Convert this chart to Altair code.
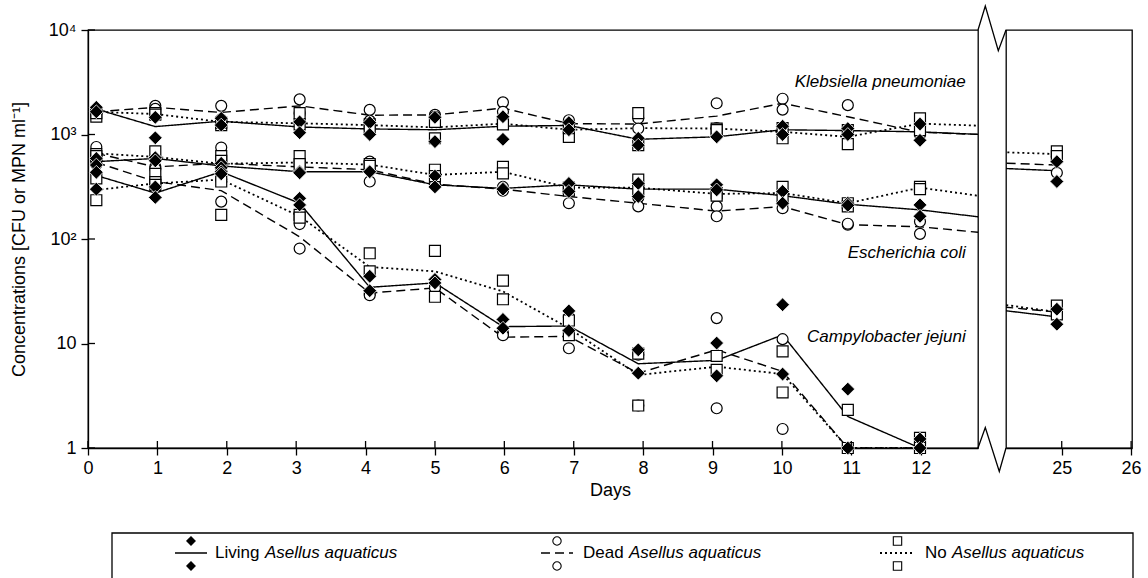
import altair as alt
import pandas as pd

# ---------------- data ----------------
days = [0.12, 0.97, 1.92, 3.05, 4.06, 5.0, 5.98, 6.93, 7.93, 9.06, 10.01, 10.95, 11.99, 24.93]

species = ["Klebsiella pneumoniae", "Escherichia coli", "Campylobacter jejuni"]
treatments = ["Living", "Dead", "No"]

# mean lines
kp_living = [1750, 1190, 1340, 1180, 1130, 1110, 1200, 1220, 900, 950, 1110, 1090, 1060, 450]
kp_dead = [1650, 1820, 1625, 1880, 1530, 1540, 1790, 1270, 1260, 1500, 1990, 1480, 1050, 510]
kp_no = [1650, 1570, 1320, 1280, 1230, 1170, 1270, 1110, 1150, 1140, 1060, 950, 1270, 650]

ec_living = [550, 590, 500, 440, 440, 330, 305, 330, 300, 300, 260, 215, 190, 18]
ec_dead = [660, 490, 530, 490, 460, 335, 300, 255, 220, 185, 204, 137, 131, 20]
ec_no = [660, 610, 525, 540, 515, 410, 440, 310, 310, 270, 275, 220, 310, 20]

cj_living = [405, 275, 440, 220, 34.5, 38, 14.5, 14.7, 6.4, 6.9, 12.1, 2.0, 1.0, None]
cj_dead = [540, 355, 290, 105, 30.4, 34, 11.5, 11.7, 5.2, 8.7, 5.4, 1.0, 1.0, None]
cj_no = [295, 340, 370, 165, 54, 49, 31.5, 14.0, 5.0, 6.0, 5.1, 1.0, 1.0, None]

# replicate measurements
kp_living_r1 = [1820, 1460, 1430, 1320, 1300, 1460, 1480, 1300, 920, 950, 1200, 1140, 1260, 550]
kp_living_r2 = [1650, 930, 1230, 1040, 1000, 855, 900, 1110, 790, 950, 1000, 1000, 880, 355]
kp_dead_r1 = [1700, 1880, 1880, 2170, 1720, 1540, 2030, 1370, 1430, 1990, 2200, 1910, 1050, 610]
kp_dead_r2 = [1600, 1760, 1400, 1600, 1350, 1480, 1650, 1250, 1140, 1150, 1730, 1100, 1000, 430]
kp_no_r1 = [1480, 1600, 1230, 1600, 1250, 1320, 1320, 950, 1600, 1140, 920, 810, 1430, 690]
kp_no_r2 = [1600, 1550, 1300, 1250, 1150, 920, 1250, 1150, 790, 1100, 1150, 1100, 1100, 620]

ec_living_r1 = [590, 600, 530, 440, 440, 400, 305, 340, 340, 330, 285, 220, 212, 21.3]
ec_living_r2 = [510, 560, 480, 430, 440, 315, 300, 285, 255, 295, 220, 210, 165, 15.3]
ec_dead_r1 = [760, 490, 750, 530, 550, 340, 315, 290, 250, 205, 220, 137, 147, 18.8]
ec_dead_r2 = [640, 470, 450, 500, 355, 330, 290, 220, 205, 165, 197, 140, 112, 20]
ec_no_r1 = [650, 690, 620, 620, 520, 460, 490, 310, 370, 275, 315, 220, 315, 23]
ec_no_r2 = [620, 420, 560, 520, 500, 400, 425, 290, 300, 260, 250, 205, 300, 19]

cj_living_r1 = [435, 315, 440, 245, 44, 41, 17, 20.5, 8.7, 10.1, 23.5, 3.66, 1.22, None]
cj_living_r2 = [300, 250, 420, 212, 32, 38, 14, 13.3, 5.2, 4.9, 5.1, 1.0, 1.0, None]
cj_dead_r1 = [560, 360, 370, 139, 30, 34.5, 12.6, 17.9, 7.8, 17.5, 11.0, 1.0, 1.0, None]
cj_dead_r2 = [520, 350, 228, 81, 29, 34, 12, 9.0, 2.55, 2.4, 1.52, 1.0, 1.0, None]
cj_no_r1 = [235, 350, 170, 170, 73, 77, 40, 16.6, 8, 7.6, 8.4, 2.32, 1.25, None]
cj_no_r2 = [380, 330, 355, 160, 49, 28, 26.5, 12, 2.55, 5.6, 3.4, 1.0, 1.0, None]

label_days = [12.65, 12.65, 12.65]
label_values = [3180, 74, 11.5]

left_ticks = list(range(13))
right_ticks = [25, 26]
y_ticks = [1, 10, 100, 1000, 10000]

# ---------------- tables ----------------
mean_sets = [
    (species[0], "Living", kp_living), (species[0], "Dead", kp_dead), (species[0], "No", kp_no),
    (species[1], "Living", ec_living), (species[1], "Dead", ec_dead), (species[1], "No", ec_no),
    (species[2], "Living", cj_living), (species[2], "Dead", cj_dead), (species[2], "No", cj_no),
]
rep_sets = [
    (species[0], "Living", [kp_living_r1, kp_living_r2]), (species[0], "Dead", [kp_dead_r1, kp_dead_r2]),
    (species[0], "No", [kp_no_r1, kp_no_r2]),
    (species[1], "Living", [ec_living_r1, ec_living_r2]), (species[1], "Dead", [ec_dead_r1, ec_dead_r2]),
    (species[1], "No", [ec_no_r1, ec_no_r2]),
    (species[2], "Living", [cj_living_r1, cj_living_r2]), (species[2], "Dead", [cj_dead_r1, cj_dead_r2]),
    (species[2], "No", [cj_no_r1, cj_no_r2]),
]

line_rows = []
for sp, tr, vals in mean_sets:
    for d, v in zip(days, vals):
        if v is not None:
            line_rows.append(dict(day=d, value=v, species=sp, treatment=tr))
lines_df = pd.DataFrame(line_rows)

pt_rows = []
for sp, tr, reps in rep_sets:
    for k, rep in enumerate(reps):
        for d, v in zip(days, rep):
            if v is not None:
                pt_rows.append(dict(day=d, value=v, species=sp, treatment=tr, rep=k))
pts_df = pd.DataFrame(pt_rows)

labels_df = pd.DataFrame(dict(day=label_days, value=label_values, text=species))

# ---------------- geometry / style ----------------
FONT = "Liberation Sans"
PX_PER_DAY = 69.39
W_LEFT, W_RIGHT, H, GAP = 890, 126, 418, 28
LEFT_DOMAIN = [0, W_LEFT / PX_PER_DAY]
RIGHT_START = 24.197
RIGHT_DOMAIN = [RIGHT_START, RIGHT_START + W_RIGHT / PX_PER_DAY]
TICK = 7
DASH = {"Living": [1, 0], "Dead": [9, 5], "No": [2, 3]}
LINE_W = {"Living": 1.4, "Dead": 1.4, "No": 1.8}

ylabel_expr = ("datum.value == 10000 ? '10\u2074' : datum.value == 1000 ? '10\u00b3' : "
               "datum.value == 100 ? '10\u00b2' : datum.value == 10 ? '10' : '1'")


def make_panel(domain, width, tick_vals, left):
    xs = alt.Scale(domain=domain, nice=False, zero=False)
    ys = alt.Scale(type="log", domain=[1, 10000], nice=False)
    if left:
        x_axis = alt.Axis(values=tick_vals, format="d", tickSize=TICK, labelPadding=4, title="Days",
                          titleX=522, titleY=42, titleAlign="center", titleBaseline="middle",
                          titleFontWeight="normal", labelFlush=False, grid=False)
        y_axis = alt.Axis(values=y_ticks, labelExpr=ylabel_expr, tickSize=TICK, labelPadding=5,
                          title="Concentrations [CFU or MPN ml\u207b\u00b9]", titleFontWeight="normal",
                          titleX=-60, titleY=H / 2, titleAngle=270, titleAlign="center",
                          titleBaseline="bottom", grid=False)
    else:
        x_axis = alt.Axis(values=tick_vals, format="d", tickSize=TICK, labelPadding=4, title=None,
                          labelFlush=False, grid=False)
        y_axis = None
    X = alt.X("day:Q", scale=xs, axis=x_axis)
    Y = alt.Y("value:Q", scale=ys, axis=y_axis)

    lo, hi = domain
    layers = []
    for tr in treatments:
        layers.append(
            alt.Chart(lines_df[lines_df.treatment == tr]).mark_line(
                color="black", strokeWidth=LINE_W[tr], strokeDash=DASH[tr], clip=True
            ).encode(x=X, y=Y, detail="species:N", order="day:Q")
        )
    sub = pts_df[(pts_df.day >= lo) & (pts_df.day <= hi)]
    layers.append(
        alt.Chart(sub[sub.treatment == "Dead"]).mark_point(
            shape="circle", filled=True, fill="white", stroke="black", strokeWidth=1.2,
            size=120, opacity=1).encode(x=X, y=Y)
    )
    layers.append(
        alt.Chart(sub[sub.treatment == "No"]).mark_point(
            shape="square", filled=True, fill="white", stroke="black", strokeWidth=1.2,
            size=120, opacity=1).encode(x=X, y=Y)
    )
    layers.append(
        alt.Chart(sub[sub.treatment == "Living"]).mark_point(
            shape="diamond", filled=True, fill="black", stroke="white", strokeWidth=0.8,
            size=190, opacity=1).encode(x=X, y=Y)
    )
    # inward halves of the crossing ticks
    layers.append(
        alt.Chart(pd.DataFrame(dict(day=tick_vals))).mark_rule(color="black", strokeWidth=1.3)
        .encode(x=X, y=alt.value(H - TICK), y2=alt.value(H))
    )
    if left:
        layers.append(
            alt.Chart(pd.DataFrame(dict(value=y_ticks))).mark_rule(color="black", strokeWidth=1.3)
            .encode(y=Y, x=alt.value(0), x2=alt.value(TICK))
        )
        layers.append(
            alt.Chart(labels_df).mark_text(align="right", baseline="middle", font=FONT,
                                           fontSize=17, fontStyle="italic", color="black")
            .encode(x=X, y=Y, text="text:N")
        )
    return layers


# ---------------- axis break (decoration, pixel coordinates of left panel) ----------------
brk_top = [(W_LEFT, 0), (W_LEFT + 7.3, -24), (W_LEFT + 20.3, 20.7), (W_LEFT + GAP, 0)]
brk_bot = [(W_LEFT, H), (W_LEFT + 7.3, H - 20.5), (W_LEFT + 21.3, H + 23.5), (W_LEFT + GAP, H)]
brk_rows = []
for g, path in enumerate([brk_top, brk_bot]):
    for i, (px, py) in enumerate(path):
        brk_rows.append(dict(g=g, i=i, px=px, py=py))
brk_df = pd.DataFrame(brk_rows)
PX = alt.X("px:Q", scale=None, axis=None)
PY = alt.Y("py:Q", scale=None, axis=None)
break_layer = alt.Chart(brk_df).mark_line(color="black", strokeWidth=1.3).encode(
    x=PX, y=PY, detail="g:N", order="i:Q")

# ---------------- custom legend (pixel coordinates of left panel) ----------------
LEG_L, LEG_R, LEG_T, LEG_B = 24, 1045, 503, 548
LEG_MID = 523
box_df = pd.DataFrame(dict(i=[0, 1, 2, 3], px=[LEG_L, LEG_L, LEG_R, LEG_R],
                           py=[LEG_B, LEG_T, LEG_T, LEG_B]))
legend_layers = [alt.Chart(box_df).mark_line(color="black", strokeWidth=1.3).encode(
    x=PX, y=PY, order="i:Q")]

leg_items = [
    # treatment, line x0, line x1, text x, regular word, word width, shape, fill, stroke
    ("Living", 87, 119, 127, "Living", 50, "diamond", "black", "black"),
    ("Dead", 453, 485, 495, "Dead", 46, "circle", "white", "black"),
    ("No", 792, 827, 837, "No", 27, "square", "white", "black"),
]
for tr, x0, x1, tx, word, ww, shape, fill, stroke in leg_items:
    seg = pd.DataFrame(dict(px=[x0, x1], py=[LEG_MID, LEG_MID], i=[0, 1]))
    legend_layers.append(alt.Chart(seg).mark_line(color="black", strokeWidth=LINE_W[tr],
                                                  strokeDash=DASH[tr]).encode(x=PX, y=PY, order="i:Q"))
    sym = pd.DataFrame(dict(px=[(x0 + x1) / 2] * 2, py=[LEG_MID - 12, LEG_MID + 13]))
    legend_layers.append(alt.Chart(sym).mark_point(shape=shape, filled=True, fill=fill, stroke=stroke,
                                                   strokeWidth=1.1, size=70, opacity=1)
                         .encode(x=PX, y=PY))
    t1 = pd.DataFrame(dict(px=[tx], py=[LEG_MID], t=[word]))
    legend_layers.append(alt.Chart(t1).mark_text(align="left", baseline="middle", font=FONT,
                                                 fontSize=17, color="black")
                         .encode(x=PX, y=PY, text="t:N"))
    t2 = pd.DataFrame(dict(px=[tx + ww], py=[LEG_MID], t=["Asellus aquaticus"]))
    legend_layers.append(alt.Chart(t2).mark_text(align="left", baseline="middle", font=FONT,
                                                 fontSize=17, fontStyle="italic", color="black")
                         .encode(x=PX, y=PY, text="t:N"))

left = alt.layer(*make_panel(LEFT_DOMAIN, W_LEFT, left_ticks, True), break_layer,
                 *legend_layers).properties(width=W_LEFT, height=H)
right = alt.layer(*make_panel(RIGHT_DOMAIN, W_RIGHT, right_ticks, False)).properties(
    width=W_RIGHT, height=H)

chart = alt.hconcat(left, right, spacing=GAP, bounds="flush").properties(
    padding={"left": 9, "top": 2, "right": 0, "bottom": 0},
    background="white"
).configure_view(
    stroke="black", strokeWidth=1.3
).configure_axis(
    labelFont=FONT, titleFont=FONT, labelFontSize=18, titleFontSize=18,
    labelColor="black", titleColor="black", domainColor="black", tickColor="black",
    domainWidth=1.3, tickWidth=1.3, grid=False
)

chart.save("out.html", embed_options={"renderer": "svg", "actions": False})
